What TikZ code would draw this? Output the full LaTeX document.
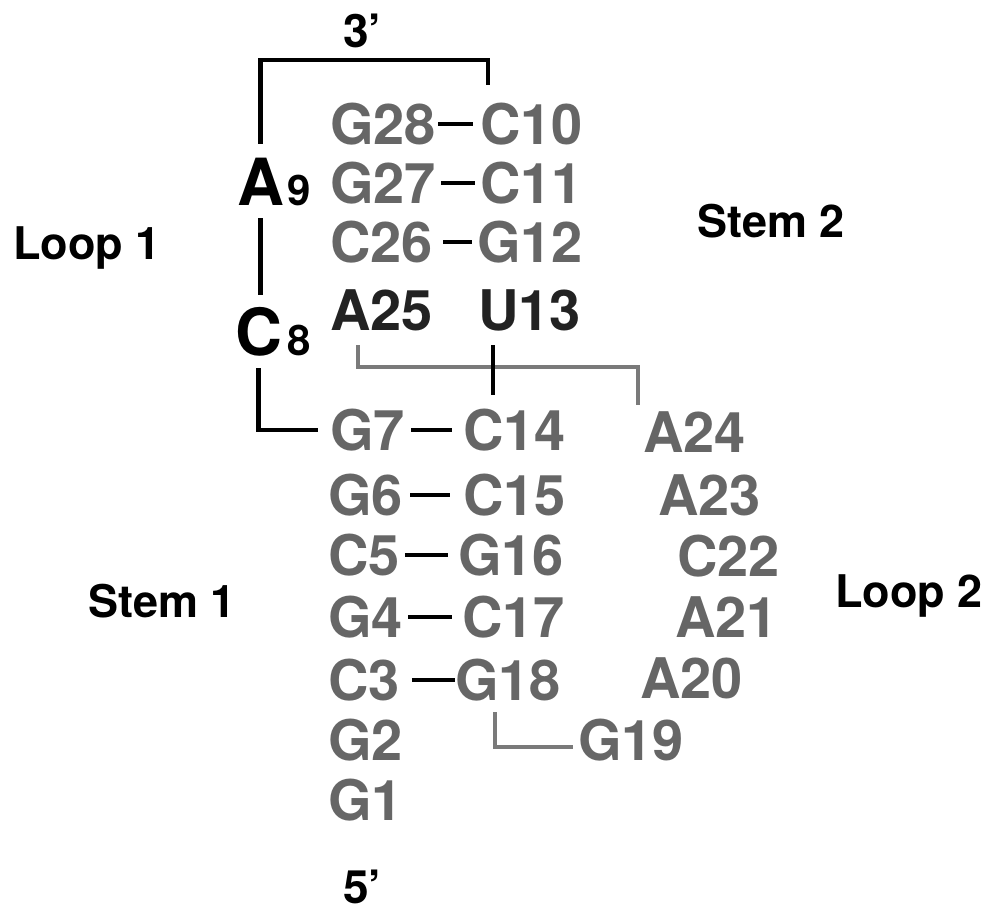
\documentclass[tikz,border=0pt]{standalone}
\usepackage{fontspec}
\setmainfont{TeX Gyre Heros}
\usetikzlibrary{calc}
\definecolor{ntgray}{HTML}{666666}
\definecolor{ntdark}{HTML}{222222}
\definecolor{linkgray}{HTML}{7A7A7A}
\begin{document}
\begin{tikzpicture}[x=1pt,y=1pt,
  nt/.style={anchor=base west, inner sep=0pt, text height=40pt, text depth=0pt,
    font=\bfseries\fontsize{56}{60}\selectfont, text=ntgray},
  ntbold/.style={nt, text=ntdark},
  loopnt/.style={anchor=base west, inner sep=0pt, text height=46pt, text depth=0pt,
    font=\bfseries\fontsize{65}{70}\selectfont, text=black},
  subnum/.style={anchor=base west, inner sep=0pt,
    font=\bfseries\fontsize{42}{44}\selectfont, text=black},
  region/.style={anchor=base west, inner sep=0pt,
    font=\bfseries\fontsize{45}{50}\selectfont, text=black},
  endlabel/.style={anchor=base west, inner sep=0pt,
    font=\bfseries\fontsize{46}{50}\selectfont, text=black},
  bond/.style={draw=black, line width=4pt},
  strand/.style={draw=black, line width=4.5pt},
  link/.style={draw=linkgray, line width=3.5pt}]
\useasboundingbox (0,0) rectangle (989,-914);

% stem 2, 5' side (left column)
\node[nt] (g28) at (330,-144) {G28};
\node[nt] (g27) at (330,-203) {G27};
\node[nt] (c26) at (330,-262) {C26};
\node[ntbold] (a25) at (330,-330) {A25};
% stem 2, 3' side (right column)
\node[nt] (c10) at (480,-144) {C10};
\node[nt] (c11) at (480,-203) {C11};
\node[nt] (g12) at (477,-262) {G12};
\node[ntbold] (u13) at (478,-330) {U13};

% stem 1
\node[nt] (g7) at (330,-450) {G7};
\node[nt] (g6) at (328,-515) {G6};
\node[nt] (c5) at (328,-575) {C5};
\node[nt] (g4) at (328,-637) {G4};
\node[nt] (c3) at (328,-700) {C3};
\node[nt] (g2) at (328,-760) {G2};
\node[nt] (g1) at (328,-820) {G1};
\node[nt] (c14) at (463,-450) {C14};
\node[nt] (c15) at (463,-515) {C15};
\node[nt] (g16) at (458,-575) {G16};
\node[nt] (c17) at (462,-637) {C17};
\node[nt] (g18) at (455,-700) {G18};

% loop 2
\node[nt] (a24) at (643,-452) {A24};
\node[nt] (a23) at (658,-515) {A23};
\node[nt] (c22) at (677,-576) {C22};
\node[nt] (a21) at (675,-637) {A21};
\node[nt] (a20) at (640,-698) {A20};
\node[nt] (g19) at (578,-760) {G19};

% loop 1
\node[loopnt] (a9) at (237,-205) {A};
\node[subnum] at (287,-205) {9};
\node[loopnt] (c8) at (235,-355) {C};
\node[subnum] at (287,-355) {8};

% region and end labels
\node[endlabel] (three) at (343,-47) {3’};
\node[endlabel] (five) at (343,-903) {5’};
\node[region] (loop1) at (13,-259) {Loop 1};
\node[region] (stem2) at (697,-237) {Stem 2};
\node[region] (stem1) at (88,-617) {Stem 1};
\node[region] (loop2) at (835,-607) {Loop 2};

% Watson-Crick pairs
\draw[bond, shorten <=2pt, shorten >=7pt] (g28) -- (c10);
\draw[bond, shorten <=5pt, shorten >=5pt] (g27) -- (c11);
\draw[bond, shorten <=10pt, shorten >=5pt] (c26) -- (g12);
\draw[bond, shorten <=6pt, shorten >=11pt] (g7) -- (c14);
\draw[bond, shorten <=7pt, shorten >=13pt] (g6) -- (c15);
\draw[bond, shorten <=5pt, shorten >=10pt] (c5) -- (g16);
\draw[bond, shorten <=5pt, shorten >=10pt] (g4) -- (c17);
\draw[bond, shorten <=12pt, shorten >=0pt] (c3) -- (g18);

% backbone through loop 1
\draw[strand] ([shift={(8,19)}]c10.north west) -- ++(0,25) -| ([yshift=15]a9.north);
\coordinate (a9foot) at ([yshift=-13]a9.south);
\coordinate (c8head) at ([yshift=14]c8.north);
\draw[strand] (a9foot) -- (a9foot |- c8head);
\draw[strand] ([yshift=-13]c8.south) |- ([xshift=-12]g7.west);

% A25 / U13 links to loop 2 and stem 1
\draw[link] ([shift={(28,-15)}]a25.south west) -- ++(0,-22) -| ([shift={(-5,7)}]a24.north west);
\coordinate (u13foot) at ([shift={(15,-15)}]u13.south west);
\coordinate (c14head) at ([yshift=15]c14.north);
\draw[strand] (u13foot) -- (u13foot |- c14head);
\draw[link] ([shift={(40,-12)}]g18.south west) |- ([shift={(-5,-7)}]g19.west);
\end{tikzpicture}
\end{document}
